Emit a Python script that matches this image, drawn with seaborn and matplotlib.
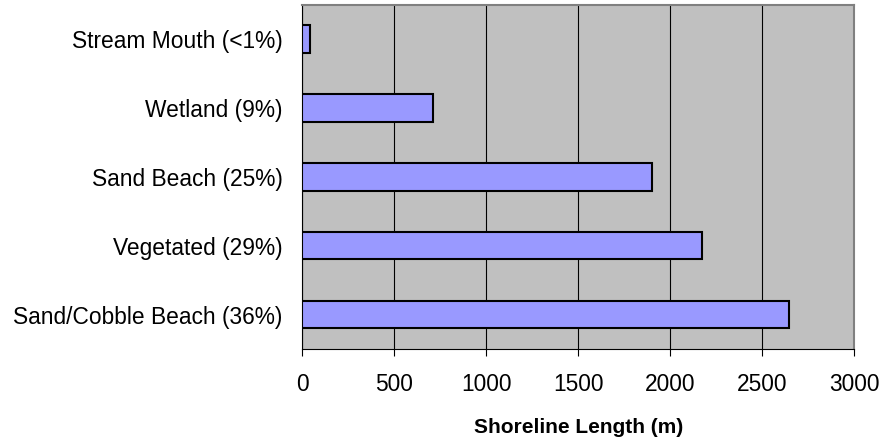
"""Shoreline type lengths as a horizontal bar chart."""
import matplotlib
matplotlib.use("Agg")
import matplotlib.pyplot as plt
import pandas as pd
import seaborn as sns

categories = [
    "Stream Mouth (<1%)",
    "Wetland (9%)",
    "Sand Beach (25%)",
    "Vegetated (29%)",
    "Sand/Cobble Beach (36%)",
]
lengths_m = [40, 710, 1900, 2170, 2645]
x_ticks = [0, 500, 1000, 1500, 2000, 2500, 3000]

df = pd.DataFrame({"category": categories, "length": lengths_m})

plt.rcParams["font.family"] = ["Liberation Sans", "DejaVu Sans"]

fig = plt.figure(figsize=(8.82, 4.42), dpi=100)
ax = fig.add_axes([0.3427, 0.2104, 0.9686 - 0.3427, 0.9898 - 0.2104])
ax.set_facecolor("#C0C0C0")

sns.barplot(
    data=df,
    x="length",
    y="category",
    orient="h",
    order=categories,
    color="#9999FF",
    saturation=1,
    edgecolor="black",
    linewidth=1.5,
    width=0.4,
    ax=ax,
    zorder=3,
)

ax.set_xlim(0, 3000)
ax.set_xticks(x_ticks)
ax.set_xticklabels([str(t) for t in x_ticks], fontsize=16.4)
ax.tick_params(axis="x", direction="out", length=5, width=0.8, pad=12, colors="black")
ax.tick_params(axis="y", length=0, pad=14, labelsize=16.4)
ax.grid(True, axis="x", color="black", linewidth=0.8, zorder=1)
ax.set_axisbelow(True)

ax.set_ylabel("")
ax.set_xlabel("Shoreline Length (m)", fontsize=15, fontweight="bold", labelpad=16)

for side in ["left", "bottom"]:
    ax.spines[side].set_color("black")
    ax.spines[side].set_linewidth(0.8)
for side in ["top", "right"]:
    ax.spines[side].set_color("#808080")
    ax.spines[side].set_linewidth(1.5)

fig.savefig("out.png", dpi=100)
plt.close(fig)
